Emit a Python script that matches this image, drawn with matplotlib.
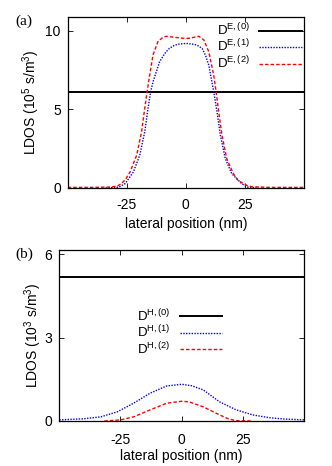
import matplotlib
matplotlib.use("Agg")
import matplotlib.pyplot as plt

plt.rcParams['font.family'] = ['Liberation Sans', 'DejaVu Sans']
plt.rcParams['mathtext.fontset'] = 'custom'
plt.rcParams['mathtext.rm'] = 'Liberation Sans'
plt.rcParams['mathtext.it'] = 'Liberation Sans:italic'
plt.rcParams['mathtext.bf'] = 'Liberation Sans:bold'
plt.rcParams['axes.unicode_minus'] = False

# ---------------- data ----------------
# panel (a): electric LDOS (10^5 s/m^3)
a_const = 6.13
a1_x = [-34, -30, -28.3, -25.7, -22.2, -19.5, -17.4, -16.0, -14.9, -13.9, -11.1, -9.0, -7.0, -5.0,
        -3.5, 0, 3.5, 5.0, 6.9, 8.3, 9.7, 11.8, 13.2, 14.6, 16.7, 19.4, 23.6, 25.9, 28, 31]
a1_y = [0.0, 0.03, 0.06, 0.28, 1.02, 2.09, 3.57, 5.07, 6.13, 6.76, 8.04, 8.55, 8.89, 9.07,
        9.15, 9.21, 9.15, 9.07, 8.89, 8.45, 7.83, 6.13, 4.85, 3.36, 1.87, 0.92, 0.28, 0.06, 0.02, 0.0]
a2_x = [-50, -40, -32, -29, -27.3, -25.5, -23.6, -20.8, -18.75, -17.4, -16.4, -15.3, -13.9, -11.8,
        -9.7, -8.3, -5, -2, 0, 2, 5.5, 7.6, 9.7, 11.8, 12.8, 13.9, 15.3, 17.3, 20.1, 22, 24.3, 26,
        28, 35, 50]
a2_y = [0.04, 0.04, 0.06, 0.12, 0.28, 0.55, 1.02, 2.09, 3.57, 5.07, 6.13, 7.19, 8.47, 9.32,
        9.6, 9.66, 9.6, 9.55, 9.52, 9.55, 9.66, 9.43, 8.68, 7.19, 6.13, 4.85, 3.36, 1.87, 0.92, 0.5,
        0.28, 0.15, 0.08, 0.04, 0.04]

# panel (b): magnetic LDOS (10^3 s/m^3)
b_const = 5.19
b1_x = [-50, -40, -33, -26.3, -19.6, -12.9, -6.1, 0, 4, 8.8, 15.5, 22.3, 29, 35.7, 42, 50]
b1_y = [0.04, 0.08, 0.15, 0.33, 0.64, 1.0, 1.26, 1.32, 1.27, 1.12, 0.69, 0.4, 0.22, 0.12, 0.07, 0.04]
b2_x = [-31.6, -25, -19.6, -12.9, -6.1, 0, 3, 8.8, 15.5, 19, 22.3, 29]
b2_y = [0.0, 0.04, 0.15, 0.4, 0.64, 0.71, 0.69, 0.51, 0.22, 0.08, 0.01, 0.0]

xticks = [-25, 0, 25]
a_yticks = [0, 5, 10]
b_yticks = [0, 3, 6]
a_labels = [r'D$^{\rm E,(0)}$', r'D$^{\rm E,(1)}$', r'D$^{\rm E,(2)}$']
b_labels = [r'D$^{\rm H,(0)}$', r'D$^{\rm H,(1)}$', r'D$^{\rm H,(2)}$']

# ---------------- figure ----------------
W, H = 332, 466
fig = plt.figure(figsize=(W / 100, H / 100), dpi=100)
FS = 10
LFS = 9.5

def px_axes(l, t, r, b):
    return [l / W, 1 - b / H, (r - l) / W, (b - t) / H]

axa = fig.add_axes(px_axes(67.7, 17.3, 304, 188))
axb = fig.add_axes(px_axes(59.3, 250, 304, 421))

blue_ls = (0, (1, 1))
red_ls = (0, (2.5, 1.5))

def style(ax, yticks, ylim, xpad):
    ax.set_xlim(-50, 50)
    ax.set_ylim(*ylim)
    ax.set_xticks(xticks)
    ax.set_yticks(yticks)
    ax.tick_params(direction='in', length=3.5, width=0.6, top=True, right=True,
                   labelsize=FS, pad=5, colors='black')
    ax.tick_params(axis='x', pad=xpad)
    for s in ax.spines.values():
        s.set_linewidth(0.9)
        s.set_zorder(5)
    ax.set_xlabel('lateral position (nm)', fontsize=FS)
    ax.xaxis.label.set_va('center')

# (a)
la0, = axa.plot([-50, 50], [a_const, a_const], color='black', lw=1.4)
la1, = axa.plot(a1_x, a1_y, color='#0000ff', lw=1.0, ls=blue_ls)
la2, = axa.plot(a2_x, a2_y, color='#ff0000', lw=1.0, ls=red_ls)
style(axa, a_yticks, (0, 10.87), 7)
axa.set_ylabel(r'LDOS (10$^5$ s/m$^3$)', fontsize=FS)
axa.yaxis.set_label_coords(-0.11, 0.5)
axa.xaxis.set_label_coords(0.5, -(224 - 188) / 170.7)
axa.legend([la0, la1, la2], a_labels, loc='upper right', bbox_to_anchor=(0.99, 0.975),
           frameon=False, markerfirst=False, fontsize=LFS, handlelength=3.2,
           handletextpad=0.7, labelspacing=0.0, borderpad=0, borderaxespad=0)
fig.text(15 / W, 1 - 21 / H, '(a)', family=['Liberation Serif', 'DejaVu Serif'],
         fontsize=11, va='center', ha='left')

# (b)
lb0, = axb.plot([-50, 50], [b_const, b_const], color='black', lw=1.4)
lb1, = axb.plot(b1_x, b1_y, color='#0000ff', lw=1.0, ls=blue_ls)
lb2, = axb.plot(b2_x, b2_y, color='#ff0000', lw=1.0, ls=red_ls)
style(axb, b_yticks, (0, 6.15), 8.5)
axb.set_ylabel(r'LDOS (10$^3$ s/m$^3$)', fontsize=FS)
axb.yaxis.set_label_coords(-0.064, 0.5)
axb.xaxis.set_label_coords(0.5, -(456 - 421) / 171)
axb.legend([lb0, lb1, lb2], b_labels, loc='upper right', bbox_to_anchor=(0.665, 0.665),
           frameon=False, markerfirst=False, fontsize=LFS, handlelength=3.2,
           handletextpad=0.7, labelspacing=0.0, borderpad=0, borderaxespad=0)
fig.text(15 / W, 1 - 254 / H, '(b)', family=['Liberation Serif', 'DejaVu Serif'],
         fontsize=11, va='center', ha='left')

fig.savefig('out.png', dpi=100)
